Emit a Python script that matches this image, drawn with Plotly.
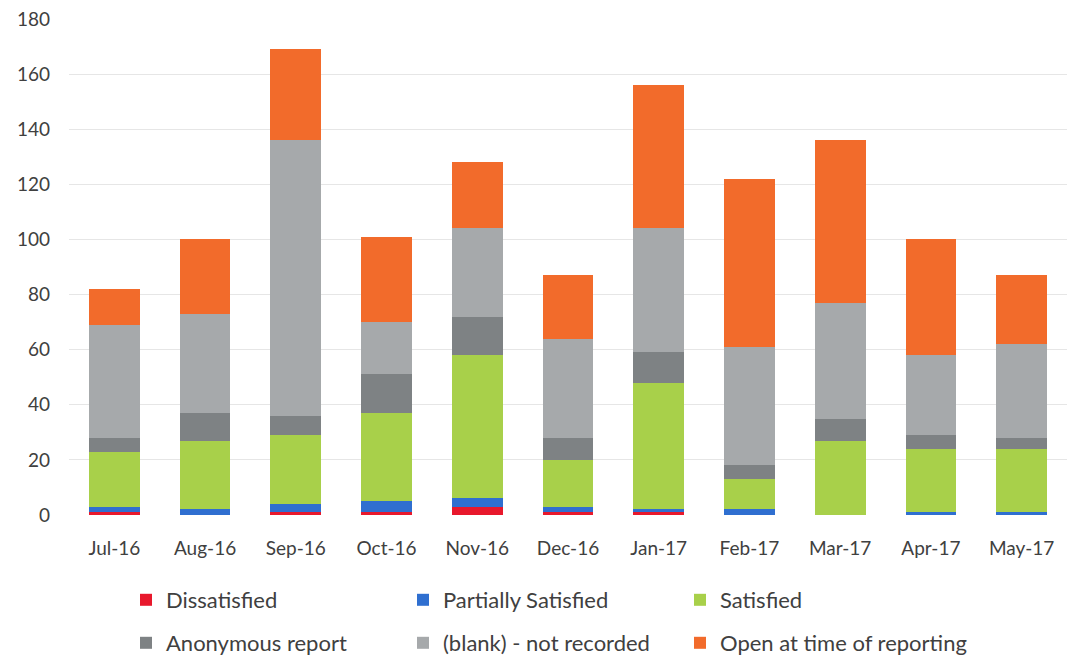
import plotly.graph_objects as go

months = ["Jul-16", "Aug-16", "Sep-16", "Oct-16", "Nov-16", "Dec-16",
          "Jan-17", "Feb-17", "Mar-17", "Apr-17", "May-17"]
dissatisfied = [1, 0, 1, 1, 3, 1, 1, 0, 0, 0, 0]
partially_satisfied = [2, 2, 3, 4, 3, 2, 1, 2, 0, 1, 1]
satisfied = [20, 25, 25, 32, 52, 17, 46, 11, 27, 23, 23]
anonymous = [5, 10, 7, 14, 14, 8, 11, 5, 8, 5, 4]
blank_not_recorded = [41, 36, 100, 19, 32, 36, 45, 43, 42, 29, 34]
open_at_reporting = [13, 27, 33, 31, 24, 23, 52, 61, 59, 42, 25]

series = [
    ("Dissatisfied", dissatisfied, "#e8182c", "legend"),
    ("Partially Satisfied", partially_satisfied, "#2f6fd0", "legend"),
    ("Satisfied", satisfied, "#a8d04a", "legend"),
    ("Anonymous report", anonymous, "#7e8284", "legend2"),
    ("(blank) - not recorded", blank_not_recorded, "#a6a9ab", "legend2"),
    ("Open at time of reporting", open_at_reporting, "#f26b2b", "legend3"),
]

fig = go.Figure()
for name, vals, color, lg in series:
    fig.add_trace(go.Bar(x=months, y=vals, name=name, marker_color=color,
                         marker_line_width=0, legend=lg))

font_family = "Lato, 'Open Sans', sans-serif"
legend_common = dict(orientation="h", xanchor="left", yanchor="middle",
                     xref="container", yref="container",
                     font=dict(family=font_family, size=22, color="#404040"),
                     bgcolor="rgba(0,0,0,0)", traceorder="normal")

fig.update_layout(
    barmode="stack",
    bargap=0.44,
    width=1074, height=657,
    margin=dict(l=69, r=7, t=19, b=142),
    plot_bgcolor="white", paper_bgcolor="white",
    font=dict(family=font_family, size=19, color="#404040"),
    legend=dict(**legend_common, x=126 / 1074, y=1 - 600 / 657,
                entrywidth=232, entrywidthmode="pixels"),
    legend2=dict(**legend_common, x=126 / 1074, y=1 - 643 / 657,
                 entrywidth=232, entrywidthmode="pixels"),
    legend3=dict(**legend_common, x=680 / 1074, y=1 - 643 / 657),
    yaxis=dict(range=[0, 180], dtick=20, showgrid=True, gridcolor="#e6e6e6",
               gridwidth=1, zeroline=False, showline=False,
               ticklabelstandoff=18, tickfont=dict(size=19, color="#404040")),
    xaxis=dict(showgrid=False, showline=False, zeroline=False,
               tickfont=dict(size=19, color="#404040"), ticklabelstandoff=20),
)

fig.write_html("out.html")
